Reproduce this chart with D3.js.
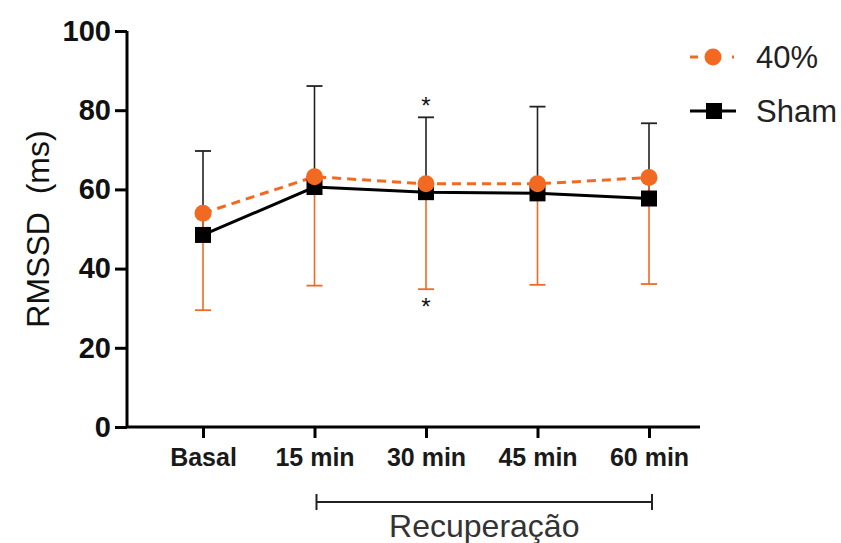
<!DOCTYPE html>
<html>
<head>
<meta charset="utf-8">
<script src="https://cdn.jsdelivr.net/npm/d3@7"></script>
<style>
  html, body { margin: 0; padding: 0; background: #fff; }
  svg { display: block; }
  text { font-family: "Liberation Sans", Arial, sans-serif; }
</style>
</head>
<body>
<svg id="chart" width="841" height="543"></svg>
<script>
const categories = ["Basal", "15 min", "30 min", "45 min", "60 min"];
const yTicks = [0, 20, 40, 60, 80, 100];
const mean40 = [54.0, 63.2, 61.4, 61.4, 63.0];
const lower40 = [29.5, 35.7, 34.8, 35.9, 36.1];      // mean - SD (error bar drawn down)
const meanSham = [48.5, 60.6, 59.3, 59.0, 57.7];
const upperSham = [69.7, 86.1, 78.2, 80.9, 76.7];    // mean + SD (error bar drawn up)
const sigAbove = [false, false, true, false, false];
const sigBelow = [false, false, true, false, false];
const seriesNames = ["40%", "Sham"];

const orange = "#f26a21";
const svg = d3.select("#chart");

const y = d3.scaleLinear().domain([0, 100]).range([427, 31]);
const x = d3.scalePoint().domain(categories).range([203, 649]);

// axes
const yAxis = svg.append("g").attr("transform", "translate(127,0)")
  .call(d3.axisLeft(y).tickValues(yTicks).tickSize(12).tickPadding(4));
yAxis.select(".domain").attr("stroke", "#000").attr("stroke-width", 3)
  .attr("d", `M0,${y(100)}V${y(0)}`);
yAxis.selectAll(".tick line").attr("stroke", "#000").attr("stroke-width", 3);
yAxis.selectAll(".tick text").attr("fill", "#111").attr("font-size", 29).attr("font-weight", "bold")
  .attr("font-family", "Liberation Sans, Arial, sans-serif");

const xAxis = svg.append("g").attr("transform", "translate(0,427)")
  .call(d3.axisBottom(x).tickSize(11).tickPadding(10));
xAxis.select(".domain").attr("stroke", "#000").attr("stroke-width", 3)
  .attr("d", "M126,0H700");
xAxis.selectAll(".tick line").attr("stroke", "#000").attr("stroke-width", 3);
xAxis.selectAll(".tick text").attr("fill", "#1a1a1a").attr("font-size", 25).attr("font-weight", "bold")
  .attr("font-family", "Liberation Sans, Arial, sans-serif");

// y label
svg.append("text")
  .attr("transform", `translate(49,${y(50)}) rotate(-90)`)
  .attr("text-anchor", "middle")
  .attr("font-size", 32).attr("fill", "#111")
  .attr("xml:space", "preserve")
  .text("RMSSD  (ms)");

// error bars
const capW = 8;
const eb = svg.append("g");
categories.forEach((c, i) => {
  const cx = x(c);
  // sham: up
  eb.append("line").attr("x1", cx).attr("x2", cx).attr("y1", y(meanSham[i])).attr("y2", y(upperSham[i]))
    .attr("stroke", "#222").attr("stroke-width", 1.6);
  eb.append("line").attr("x1", cx - capW).attr("x2", cx + capW).attr("y1", y(upperSham[i])).attr("y2", y(upperSham[i]))
    .attr("stroke", "#222").attr("stroke-width", 1.8);
  // 40%: down
  eb.append("line").attr("x1", cx).attr("x2", cx).attr("y1", y(mean40[i])).attr("y2", y(lower40[i]))
    .attr("stroke", orange).attr("stroke-width", 1.6);
  eb.append("line").attr("x1", cx - capW).attr("x2", cx + capW).attr("y1", y(lower40[i])).attr("y2", y(lower40[i]))
    .attr("stroke", orange).attr("stroke-width", 1.8);
  if (sigAbove[i]) {
    svg.append("text").attr("x", cx).attr("y", y(upperSham[i]) - 3).attr("text-anchor", "middle")
      .attr("font-size", 24).attr("fill", "#111").text("*");
  }
  if (sigBelow[i]) {
    svg.append("text").attr("x", cx).attr("y", y(lower40[i]) + 26).attr("text-anchor", "middle")
      .attr("font-size", 24).attr("fill", "#111").text("*");
  }
});

// lines
const line = d3.line().x((d, i) => x(categories[i])).y(d => y(d));
svg.append("path").datum(meanSham).attr("d", line).attr("fill", "none")
  .attr("stroke", "#000").attr("stroke-width", 3);
svg.append("path").datum(mean40).attr("d", line).attr("fill", "none")
  .attr("stroke", orange).attr("stroke-width", 3).attr("stroke-dasharray", "9,6");

// markers
svg.append("g").selectAll("rect").data(meanSham).join("rect")
  .attr("x", (d, i) => x(categories[i]) - 8).attr("y", d => y(d) - 8)
  .attr("width", 16).attr("height", 16).attr("fill", "#000");
svg.append("g").selectAll("circle").data(mean40).join("circle")
  .attr("cx", (d, i) => x(categories[i])).attr("cy", d => y(d))
  .attr("r", 8.5).attr("fill", orange);

// legend
const lg = svg.append("g");
lg.append("line").attr("x1", 690).attr("x2", 734).attr("y1", 57).attr("y2", 57)
  .attr("stroke", orange).attr("stroke-width", 3).attr("stroke-dasharray", "8,13");
lg.append("circle").attr("cx", 713).attr("cy", 57).attr("r", 8.5).attr("fill", orange);
lg.append("text").attr("x", 756).attr("y", 68).attr("font-size", 31).attr("fill", "#222").text(seriesNames[0]);
lg.append("line").attr("x1", 690).attr("x2", 736).attr("y1", 111).attr("y2", 111)
  .attr("stroke", "#000").attr("stroke-width", 3);
lg.append("rect").attr("x", 706).attr("y", 103).attr("width", 16).attr("height", 16).attr("fill", "#000");
lg.append("text").attr("x", 756).attr("y", 122).attr("font-size", 31).attr("fill", "#222").text(seriesNames[1]);

// recovery bracket
const bx1 = x("15 min") + 2, bx2 = x("60 min") + 3, by = 502;
svg.append("path").attr("d", `M${bx1},${by - 8}V${by + 8}M${bx1},${by}H${bx2}M${bx2},${by - 8}V${by + 8}`)
  .attr("stroke", "#222").attr("stroke-width", 2).attr("fill", "none");
svg.append("text").attr("x", (bx1 + bx2) / 2).attr("y", 537).attr("text-anchor", "middle")
  .attr("font-size", 32).attr("fill", "#333").text("Recuperação");
</script>
</body>
</html>
